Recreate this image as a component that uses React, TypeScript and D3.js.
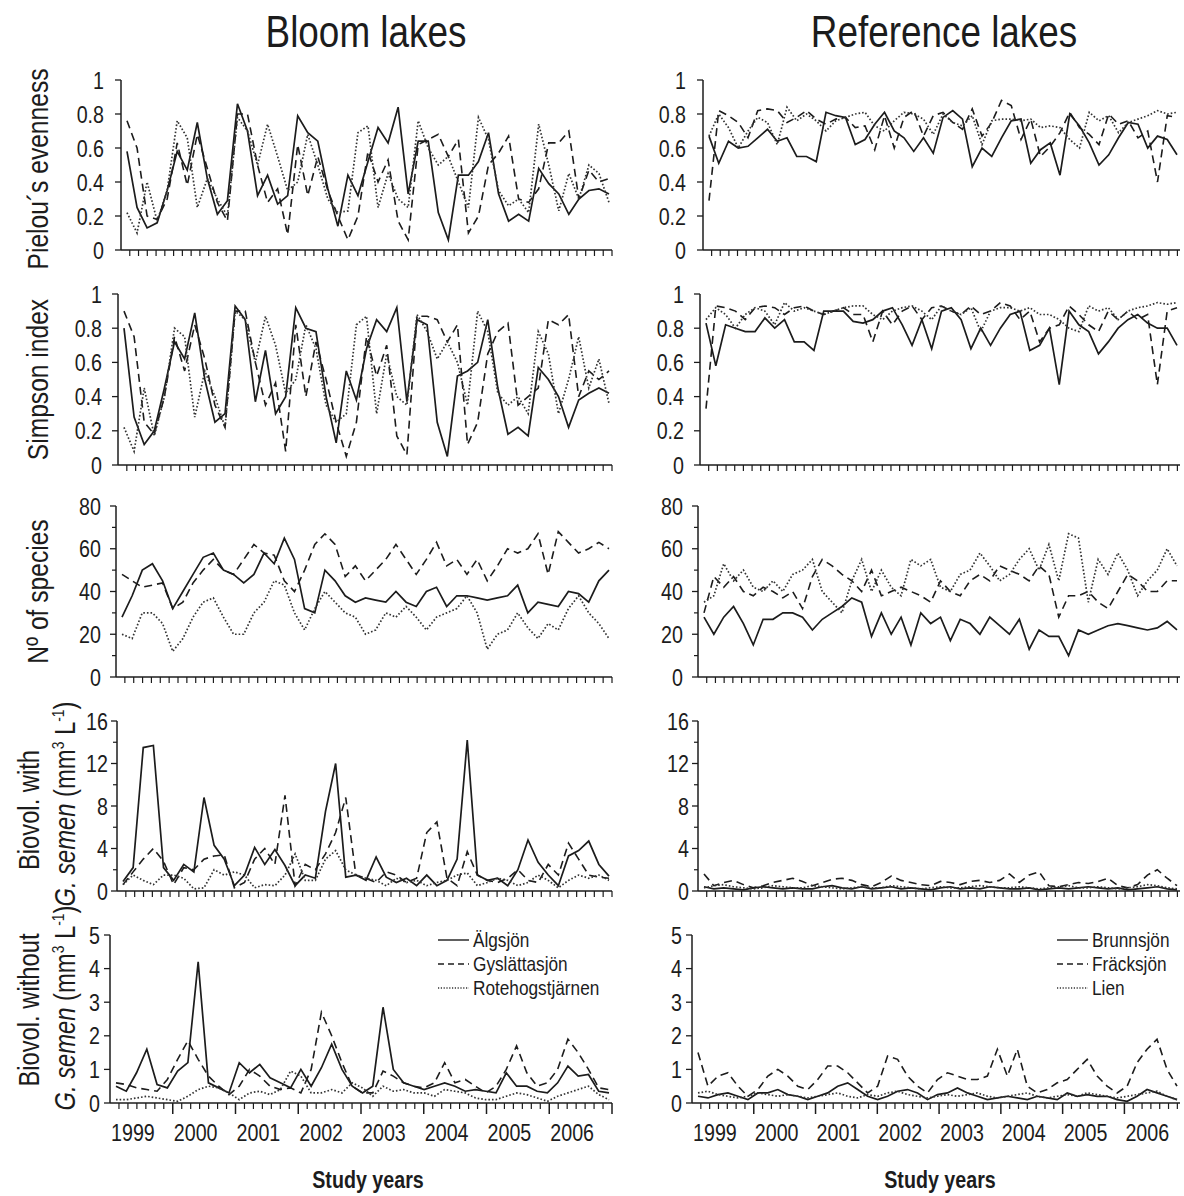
import React from 'react';
import * as d3 from 'd3';

const FONT = "'Liberation Sans Narrow','Arial Narrow','Liberation Sans',Arial,sans-serif";
const INK = '#1c1c1c';
const NARROW = 0.82;

const yearLabels = ['1999', '2000', '2001', '2002', '2003', '2004', '2005', '2006'];
const bloomLakes = ['Älgsjön', 'Gyslättasjön', 'Rotehogstjärnen'];
const refLakes = ['Brunnsjön', 'Fräcksjön', 'Lien'];

// ---- Bloom lakes (left column) ----
const algPielou = [0.58, 0.25, 0.13, 0.16, 0.35, 0.58, 0.47, 0.75, 0.42, 0.21, 0.29, 0.86, 0.70, 0.32, 0.44, 0.27, 0.32, 0.79, 0.69, 0.64, 0.36, 0.14, 0.44, 0.32, 0.52, 0.72, 0.63, 0.84, 0.33, 0.64, 0.64, 0.22, 0.06, 0.44, 0.44, 0.52, 0.69, 0.33, 0.17, 0.21, 0.17, 0.48, 0.39, 0.33, 0.21, 0.30, 0.35, 0.36, 0.33];
const gysPielou = [0.76, 0.60, 0.20, 0.18, 0.30, 0.63, 0.38, 0.68, 0.48, 0.28, 0.17, 0.80, 0.80, 0.50, 0.28, 0.36, 0.09, 0.62, 0.32, 0.55, 0.35, 0.20, 0.06, 0.20, 0.58, 0.40, 0.53, 0.17, 0.06, 0.62, 0.65, 0.68, 0.55, 0.65, 0.10, 0.20, 0.50, 0.57, 0.67, 0.30, 0.28, 0.36, 0.63, 0.63, 0.70, 0.30, 0.47, 0.40, 0.42];
const rotPielou = [0.22, 0.10, 0.40, 0.17, 0.35, 0.76, 0.66, 0.25, 0.42, 0.30, 0.20, 0.78, 0.70, 0.50, 0.74, 0.55, 0.35, 0.40, 0.68, 0.50, 0.30, 0.22, 0.23, 0.69, 0.73, 0.25, 0.45, 0.30, 0.25, 0.76, 0.60, 0.50, 0.55, 0.40, 0.25, 0.78, 0.65, 0.35, 0.26, 0.30, 0.22, 0.74, 0.50, 0.23, 0.45, 0.30, 0.50, 0.45, 0.28];

const algSimpson = [0.80, 0.28, 0.12, 0.20, 0.45, 0.72, 0.62, 0.89, 0.50, 0.25, 0.30, 0.93, 0.85, 0.37, 0.67, 0.30, 0.40, 0.92, 0.80, 0.78, 0.40, 0.13, 0.55, 0.38, 0.68, 0.85, 0.78, 0.92, 0.37, 0.85, 0.82, 0.25, 0.05, 0.52, 0.55, 0.60, 0.85, 0.45, 0.18, 0.22, 0.17, 0.57, 0.50, 0.40, 0.22, 0.38, 0.42, 0.45, 0.42];
const gysSimpson = [0.90, 0.75, 0.25, 0.18, 0.40, 0.75, 0.55, 0.82, 0.62, 0.35, 0.22, 0.90, 0.90, 0.60, 0.35, 0.48, 0.08, 0.82, 0.40, 0.72, 0.50, 0.25, 0.05, 0.25, 0.75, 0.52, 0.70, 0.17, 0.06, 0.87, 0.87, 0.85, 0.72, 0.82, 0.12, 0.25, 0.65, 0.78, 0.83, 0.35, 0.40, 0.45, 0.85, 0.82, 0.88, 0.40, 0.55, 0.50, 0.55];
const rotSimpson = [0.22, 0.08, 0.45, 0.17, 0.40, 0.80, 0.75, 0.28, 0.55, 0.40, 0.22, 0.90, 0.85, 0.60, 0.87, 0.70, 0.42, 0.50, 0.82, 0.68, 0.35, 0.25, 0.30, 0.82, 0.87, 0.30, 0.65, 0.40, 0.35, 0.88, 0.78, 0.62, 0.72, 0.60, 0.35, 0.90, 0.78, 0.42, 0.35, 0.40, 0.30, 0.78, 0.65, 0.30, 0.50, 0.75, 0.45, 0.62, 0.36];

const algSpecies = [28, 38, 50, 53, 45, 32, 40, 48, 56, 58, 50, 48, 44, 48, 58, 53, 65, 55, 32, 30, 50, 45, 38, 35, 37, 36, 35, 40, 35, 33, 40, 42, 33, 38, 38, 37, 36, 37, 38, 43, 30, 35, 34, 33, 40, 39, 35, 45, 50];
const gysSpecies = [48, 45, 42, 43, 44, 32, 35, 44, 50, 55, 50, 48, 55, 62, 58, 57, 45, 40, 50, 62, 67, 62, 47, 52, 45, 50, 55, 62, 55, 48, 55, 63, 52, 55, 48, 55, 45, 52, 60, 58, 60, 67, 48, 68, 63, 58, 60, 63, 60];
const rotSpecies = [20, 18, 30, 30, 25, 12, 18, 28, 35, 37, 28, 20, 20, 30, 35, 45, 43, 30, 22, 32, 40, 35, 30, 28, 20, 22, 30, 28, 33, 28, 22, 28, 30, 32, 38, 30, 13, 20, 22, 30, 23, 18, 25, 22, 32, 38, 30, 25, 18];

const algWith = [0.9, 2.2, 13.5, 13.7, 2.2, 1.0, 2.5, 1.8, 8.8, 4.3, 3.0, 0.5, 1.5, 4.1, 2.5, 3.9, 2.4, 0.5, 1.5, 1.2, 7.5, 12.0, 1.3, 1.5, 1.0, 3.2, 1.3, 0.8, 1.2, 0.5, 1.5, 0.5, 1.0, 3.0, 14.2, 1.5, 1.0, 1.2, 0.5, 2.0, 4.8, 2.7, 1.5, 0.5, 3.3, 3.8, 4.7, 2.5, 1.4];
const gysWith = [0.6, 1.8, 3.0, 4.0, 2.8, 0.6, 2.2, 2.0, 3.0, 3.3, 3.4, 0.3, 0.8, 3.0, 4.0, 2.5, 9.0, 0.5, 2.5, 2.0, 3.5, 5.5, 8.8, 1.5, 1.2, 0.8, 1.8, 1.5, 0.8, 1.2, 5.5, 6.5, 1.2, 0.5, 3.7, 1.5, 1.0, 0.8, 1.2, 2.0, 1.0, 0.8, 2.5, 1.5, 4.5, 3.0, 1.5, 1.3, 1.2];
const rotWith = [0.6, 1.5, 1.0, 0.6, 1.5, 1.5, 1.2, 0.2, 0.3, 2.0, 1.5, 1.8, 1.5, 0.3, 0.6, 0.5, 1.5, 3.5, 1.0, 1.0, 3.0, 3.8, 2.0, 1.5, 1.2, 1.0, 0.5, 1.2, 0.8, 1.0, 0.5, 0.8, 1.0, 1.5, 1.7, 0.5, 0.8, 1.2, 1.0, 0.5, 0.8, 1.5, 1.0, 0.3, 1.0, 1.5, 1.2, 1.5, 1.0];

const algWithout = [0.5, 0.35, 0.9, 1.6, 0.55, 0.45, 0.95, 1.2, 4.2, 0.6, 0.45, 0.3, 1.2, 0.9, 1.15, 0.75, 0.6, 0.45, 1.0, 0.5, 1.05, 1.75, 1.0, 0.5, 0.3, 0.5, 2.85, 1.0, 0.6, 0.5, 0.4, 0.5, 0.6, 0.5, 0.35, 0.4, 0.35, 0.3, 0.9, 0.5, 0.5, 0.35, 0.3, 0.6, 1.1, 0.8, 0.85, 0.35, 0.3];
const gysWithout = [0.6, 0.55, 0.45, 0.4, 0.35, 0.7, 1.3, 1.85, 1.3, 0.8, 0.5, 0.25, 0.5, 1.0, 0.8, 0.5, 0.4, 0.45, 0.3, 1.0, 2.7, 2.0, 1.2, 0.5, 0.3, 0.3, 0.95, 0.8, 0.6, 0.5, 0.45, 0.6, 1.2, 0.6, 0.7, 0.5, 0.3, 0.5, 1.0, 1.7, 0.9, 0.5, 0.6, 1.0, 1.9, 1.5, 1.0, 0.45, 0.4];
const rotWithout = [0.1, 0.1, 0.15, 0.2, 0.15, 0.1, 0.05, 0.2, 0.4, 0.5, 0.45, 0.3, 0.1, 0.3, 0.35, 0.25, 0.4, 0.95, 0.8, 0.3, 0.3, 0.4, 0.3, 0.6, 0.45, 0.2, 0.5, 0.35, 0.4, 0.3, 0.3, 0.2, 0.4, 0.35, 0.3, 0.15, 0.1, 0.1, 0.2, 0.3, 0.25, 0.15, 0.05, 0.2, 0.3, 0.4, 0.5, 0.25, 0.1];

// ---- Reference lakes (right column) ----
const bruPielou = [0.67, 0.51, 0.64, 0.60, 0.61, 0.66, 0.71, 0.64, 0.66, 0.55, 0.55, 0.52, 0.81, 0.79, 0.78, 0.62, 0.65, 0.74, 0.81, 0.70, 0.66, 0.58, 0.66, 0.57, 0.78, 0.82, 0.77, 0.49, 0.60, 0.55, 0.66, 0.76, 0.77, 0.51, 0.59, 0.63, 0.44, 0.80, 0.73, 0.63, 0.50, 0.56, 0.66, 0.75, 0.74, 0.60, 0.67, 0.65, 0.56];
const fraPielou = [0.29, 0.82, 0.79, 0.75, 0.66, 0.82, 0.83, 0.82, 0.75, 0.78, 0.82, 0.77, 0.74, 0.77, 0.78, 0.72, 0.73, 0.59, 0.79, 0.60, 0.78, 0.82, 0.67, 0.79, 0.81, 0.75, 0.71, 0.83, 0.67, 0.75, 0.88, 0.85, 0.65, 0.77, 0.55, 0.61, 0.69, 0.81, 0.72, 0.68, 0.62, 0.80, 0.74, 0.76, 0.66, 0.70, 0.40, 0.79, 0.78];
const lienPielou = [0.67, 0.80, 0.72, 0.60, 0.70, 0.78, 0.75, 0.62, 0.84, 0.76, 0.80, 0.76, 0.70, 0.76, 0.78, 0.80, 0.81, 0.73, 0.70, 0.76, 0.81, 0.80, 0.77, 0.68, 0.80, 0.75, 0.73, 0.79, 0.62, 0.76, 0.77, 0.77, 0.76, 0.77, 0.72, 0.73, 0.72, 0.65, 0.60, 0.81, 0.76, 0.79, 0.69, 0.75, 0.77, 0.79, 0.82, 0.80, 0.81];

const bruSimpson = [0.83, 0.58, 0.82, 0.80, 0.78, 0.78, 0.86, 0.80, 0.85, 0.72, 0.72, 0.67, 0.90, 0.90, 0.90, 0.84, 0.83, 0.85, 0.90, 0.92, 0.82, 0.70, 0.85, 0.68, 0.90, 0.92, 0.85, 0.68, 0.80, 0.70, 0.80, 0.88, 0.90, 0.67, 0.70, 0.80, 0.47, 0.90, 0.82, 0.78, 0.65, 0.72, 0.80, 0.85, 0.88, 0.83, 0.80, 0.80, 0.70];
const fraSimpson = [0.33, 0.93, 0.92, 0.90, 0.85, 0.92, 0.93, 0.92, 0.88, 0.92, 0.93, 0.90, 0.88, 0.90, 0.92, 0.88, 0.88, 0.72, 0.90, 0.82, 0.90, 0.93, 0.85, 0.92, 0.93, 0.90, 0.88, 0.93, 0.88, 0.90, 0.95, 0.93, 0.85, 0.90, 0.72, 0.80, 0.82, 0.93, 0.88, 0.82, 0.78, 0.90, 0.85, 0.90, 0.85, 0.88, 0.47, 0.90, 0.92];
const lienSimpson = [0.85, 0.92, 0.88, 0.80, 0.88, 0.92, 0.90, 0.82, 0.95, 0.90, 0.92, 0.90, 0.88, 0.90, 0.92, 0.93, 0.93, 0.88, 0.85, 0.90, 0.92, 0.93, 0.90, 0.85, 0.93, 0.90, 0.88, 0.92, 0.78, 0.90, 0.92, 0.92, 0.90, 0.92, 0.88, 0.88, 0.85, 0.80, 0.78, 0.93, 0.90, 0.92, 0.85, 0.90, 0.92, 0.93, 0.95, 0.94, 0.95];

const bruSpecies = [28, 20, 28, 33, 25, 15, 27, 27, 30, 30, 28, 22, 27, 30, 33, 37, 35, 19, 30, 20, 28, 15, 30, 25, 28, 17, 27, 25, 20, 28, 24, 20, 27, 13, 22, 19, 19, 10, 22, 20, 22, 24, 25, 24, 23, 22, 23, 26, 22];
const fraSpecies = [30, 47, 42, 47, 40, 38, 42, 40, 37, 40, 32, 47, 55, 52, 48, 45, 40, 50, 38, 40, 42, 40, 38, 35, 45, 40, 38, 45, 48, 45, 52, 50, 48, 45, 52, 48, 28, 38, 38, 40, 35, 32, 40, 48, 45, 40, 40, 45, 45];
const lienSpecies = [35, 38, 53, 45, 50, 42, 40, 45, 40, 48, 50, 55, 40, 35, 30, 45, 55, 40, 50, 42, 38, 55, 52, 55, 42, 40, 48, 50, 58, 52, 45, 48, 55, 60, 50, 62, 45, 67, 65, 35, 55, 48, 58, 50, 38, 45, 50, 60, 52];

const bruWith = [0.4, 0.2, 0.3, 0.2, 0.1, 0.3, 0.4, 0.3, 0.2, 0.3, 0.2, 0.2, 0.4, 0.5, 0.3, 0.2, 0.4, 0.2, 0.3, 0.4, 0.2, 0.3, 0.2, 0.1, 0.3, 0.4, 0.2, 0.3, 0.2, 0.4, 0.3, 0.2, 0.2, 0.3, 0.1, 0.2, 0.3, 0.2, 0.3, 0.4, 0.3, 0.2, 0.3, 0.1, 0.2, 0.3, 0.4, 0.2, 0.1];
const fraWith = [1.6, 0.5, 0.8, 1.0, 0.6, 0.3, 0.5, 0.8, 1.0, 1.2, 0.9, 0.5, 0.8, 1.1, 1.2, 1.0, 0.6, 0.4, 0.8, 1.4, 1.0, 0.8, 0.6, 0.5, 0.9, 0.8, 0.6, 0.9, 1.0, 0.8, 1.0, 1.6, 0.8, 1.5, 1.8, 0.5, 0.4, 0.6, 0.8, 0.7, 0.9, 1.2, 0.5, 0.3, 0.6, 1.5, 2.0, 1.2, 0.5];
const lienWith = [0.3, 0.5, 0.6, 0.4, 0.3, 0.2, 0.3, 0.5, 0.4, 0.3, 0.3, 0.5, 0.4, 0.3, 0.2, 0.3, 0.4, 0.3, 0.3, 0.5, 0.4, 0.3, 0.2, 0.3, 0.4, 0.3, 0.3, 0.4, 0.5, 0.4, 0.3, 0.3, 0.4, 0.3, 0.2, 0.3, 0.4, 0.5, 0.3, 0.3, 0.4, 0.3, 0.2, 0.3, 0.4, 0.6, 0.5, 0.3, 0.2];

const bruWithout = [0.2, 0.15, 0.25, 0.3, 0.2, 0.1, 0.3, 0.3, 0.4, 0.25, 0.2, 0.1, 0.2, 0.3, 0.5, 0.6, 0.4, 0.2, 0.1, 0.2, 0.35, 0.4, 0.3, 0.1, 0.25, 0.3, 0.45, 0.3, 0.2, 0.1, 0.15, 0.2, 0.15, 0.1, 0.2, 0.15, 0.1, 0.3, 0.2, 0.25, 0.2, 0.2, 0.1, 0.05, 0.2, 0.4, 0.3, 0.2, 0.1];
const fraWithout = [1.5, 0.5, 0.8, 0.9, 0.5, 0.2, 0.4, 0.8, 1.0, 0.8, 0.5, 0.4, 0.7, 1.1, 1.1, 0.9, 0.6, 0.3, 0.5, 1.4, 1.3, 0.8, 0.5, 0.3, 0.7, 0.9, 0.8, 0.7, 0.7, 0.8, 1.6, 0.8, 1.6, 0.5, 0.3, 0.4, 0.6, 0.7, 1.0, 1.3, 0.8, 0.5, 0.3, 0.5, 1.2, 1.6, 1.9, 1.0, 0.5];
const lienWithout = [0.3, 0.35, 0.25, 0.2, 0.15, 0.2, 0.3, 0.25, 0.2, 0.25, 0.2, 0.15, 0.2, 0.25, 0.3, 0.2, 0.15, 0.25, 0.2, 0.3, 0.35, 0.25, 0.2, 0.15, 0.2, 0.25, 0.2, 0.25, 0.3, 0.2, 0.15, 0.2, 0.25, 0.3, 0.2, 0.15, 0.2, 0.25, 0.2, 0.3, 0.25, 0.2, 0.15, 0.2, 0.25, 0.3, 0.35, 0.2, 0.1];

const rows = [
  { max: 1, step: 0.2, minor: 0, top: 80, bottom: 250, gap: 17, left: [algPielou, gysPielou, rotPielou], right: [bruPielou, fraPielou, lienPielou], lx: [121, 703] },
  { max: 1, step: 0.2, minor: 0, top: 294, bottom: 465, gap: 16, left: [algSimpson, gysSimpson, rotSimpson], right: [bruSimpson, fraSimpson, lienSimpson], lx: [118, 700] },
  { max: 80, step: 20, minor: 10, top: 506, bottom: 677, gap: 15, left: [algSpecies, gysSpecies, rotSpecies], right: [bruSpecies, fraSpecies, lienSpecies], lx: [116, 698] },
  { max: 16, step: 4, minor: 2, top: 721, bottom: 891, gap: 9, left: [algWith, gysWith, rotWith], right: [bruWith, fraWith, lienWith], lx: [117, 698] },
  { max: 5, step: 1, minor: 0, top: 935, bottom: 1103, gap: 10, left: [algWithout, gysWithout, rotWithout], right: [bruWithout, fraWithout, lienWithout], lx: [110, 692] },
];

const columns = [
  { xEnd: 612, tEnd: 2007.0, legend: bloomLakes, title: 'Bloom lakes', mid: 366 },
  { xEnd: 1180, tEnd: 2006.9, legend: refLakes, title: 'Reference lakes', mid: 944 },
];

const styles = [
  { dash: undefined, width: 1.7, color: INK },
  { dash: '8,5', width: 1.6, color: INK },
  { dash: '1.6,2', width: 1.7, color: '#333' },
];

// condensed text: Liberation Sans squeezed horizontally to mimic Arial Narrow
function NText({ x, y, size, anchor = 'start', rotate = false, weight = 'normal', children }) {
  const tf = `translate(${x},${y})${rotate ? ' rotate(-90)' : ''} scale(${NARROW},1)`;
  return (
    <text transform={tf} textAnchor={anchor} fontSize={size} fontWeight={weight} fill={INK}>{children}</text>
  );
}

function Panel({ row, col, x0, isBottom }) {
  const { xEnd, tEnd } = columns[col];
  const y = d3.scaleLinear().domain([0, row.max]).range([row.bottom, row.top]);
  const t = d3.scaleLinear().domain([1999, tEnd]).range([x0, xEnd]);
  const majors = d3.range(0, row.max + row.step / 2, row.step);
  const minors = row.minor ? d3.range(row.minor, row.max, row.step) : [];
  const minorT = d3.range(1, Math.floor((tEnd - 1999) * 7 + 0.01) + 1).map((k) => 1999 + k / 7);
  const fmt = row.max === 1 ? (v) => (v < 1e-9 ? '0' : v > 0.999 ? '1' : v.toFixed(1)) : (v) => String(Math.round(v));
  const series = col === 0 ? row.left : row.right;
  return (
    <g>
      {series.map((vals, si) => {
        const xi = d3.scaleLinear().domain([0, vals.length - 1]).range([x0 + 6, xEnd - 3]);
        const line = d3.line<number>().x((_, i) => xi(i)).y((d) => y(d));
        const s = styles[si];
        return (
          <path key={si} d={line(vals) || ''} fill="none" stroke={s.color} strokeWidth={s.width}
            strokeDasharray={s.dash} strokeLinejoin="miter" />
        );
      })}
      <line x1={x0} x2={x0} y1={y(row.max)} y2={y(0)} stroke={INK} strokeWidth={1.5} />
      <line x1={x0} x2={xEnd} y1={y(0)} y2={y(0)} stroke={INK} strokeWidth={1.5} />
      {majors.map((v) => (
        <g key={'m' + v}>
          <line x1={x0 - 6} x2={x0} y1={y(v)} y2={y(v)} stroke={INK} strokeWidth={1.3} />
          <NText x={x0 - row.gap} y={y(v) + 8.5} size={24} anchor="end">{fmt(v)}</NText>
        </g>
      ))}
      {minors.map((v) => (
        <line key={'n' + v} x1={x0 - 4} x2={x0} y1={y(v)} y2={y(v)} stroke={INK} strokeWidth={1.2} />
      ))}
      {minorT.map((tv, k) => {
        const major = isBottom && (k + 1) % 7 === 0;
        return (
          <line key={'t' + k} x1={t(tv)} x2={t(tv)} y1={y(0)} y2={y(0) + (major ? 11 : 6)} stroke={INK}
            strokeWidth={major ? 1.5 : 1.2} />
        );
      })}
      {isBottom && yearLabels.map((yl, i) => (
        <NText key={yl} x={t(1999 + i) + 1} y={y(0) + 38} size={24}>{yl}</NText>
      ))}
    </g>
  );
}

function Legend({ x, y, names }) {
  return (
    <g>
      {names.map((n, i) => (
        <g key={n} transform={`translate(${x},${y + i * 24})`}>
          <line x1={0} x2={31} y1={0} y2={0} stroke={styles[i].color} strokeWidth={styles[i].width - 0.3}
            strokeDasharray={styles[i].dash ? (i === 1 ? '6,4' : '1.2,1.6') : undefined} />
          <NText x={35} y={7} size={21}>{n}</NText>
        </g>
      ))}
    </g>
  );
}

function Sup({ children }) {
  return <tspan dy={-11} fontSize={17}>{children}</tspan>;
}

function UnitLabel({ x, y }) {
  return (
    <text transform={`translate(${x},${y}) rotate(-90) scale(${NARROW},1)`} textAnchor="middle" fontSize={29} fill={INK}>
      <tspan fontStyle="italic">G. semen</tspan><tspan> (mm</tspan><Sup>3</Sup><tspan dy={11}> L</tspan><Sup>-1</Sup><tspan dy={11}>)</tspan>
    </text>
  );
}

export default function App() {
  const yMid = (r) => (r.top + r.bottom) / 2;
  return (
    <svg width={1184} height={1196} style={{ position: 'absolute', left: 0, top: 0, background: '#fff' }}
      fontFamily={FONT}>
      <rect width={1184} height={1196} fill="#fff" />
      <NText x={columns[0].mid} y={47} size={45} anchor="middle">{columns[0].title}</NText>
      <NText x={columns[1].mid} y={47} size={45} anchor="middle">{columns[1].title}</NText>

      {rows.map((r, ri) => (
        <g key={ri}>
          <Panel row={r} col={0} x0={r.lx[0]} isBottom={ri === rows.length - 1} />
          <Panel row={r} col={1} x0={r.lx[1]} isBottom={ri === rows.length - 1} />
        </g>
      ))}

      <NText x={48} y={yMid(rows[0]) + 4} size={30} anchor="middle" rotate>Pielou´s evenness</NText>
      <NText x={48} y={yMid(rows[1])} size={30} anchor="middle" rotate>Simpson index</NText>
      <NText x={48} y={yMid(rows[2])} size={30} anchor="middle" rotate>Nº of species</NText>
      <NText x={39} y={810} size={29} anchor="middle" rotate>Biovol. with</NText>
      <UnitLabel x={75} y={804} />
      <NText x={39} y={1010} size={29} anchor="middle" rotate>Biovol. without</NText>
      <UnitLabel x={75} y={1008} />

      <Legend x={438} y={940} names={columns[0].legend} />
      <Legend x={1057} y={940} names={columns[1].legend} />

      <NText x={368} y={1188} size={24} anchor="middle" weight="bold">Study years</NText>
      <NText x={940} y={1188} size={24} anchor="middle" weight="bold">Study years</NText>
    </svg>
  );
}
